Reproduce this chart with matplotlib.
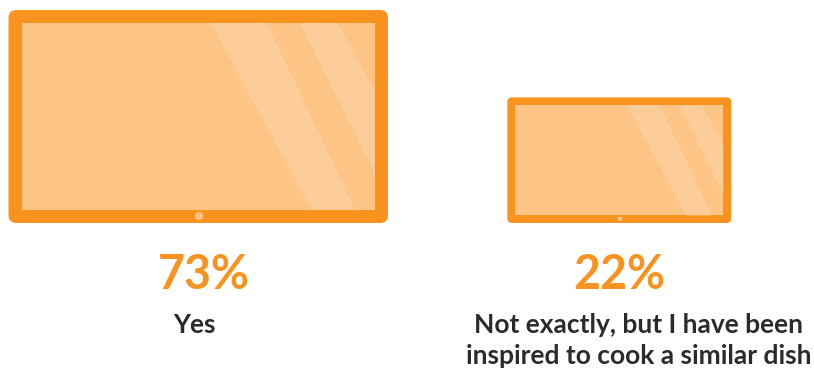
import matplotlib
matplotlib.use("Agg")
import matplotlib.pyplot as plt
from matplotlib.patches import FancyBboxPatch, Rectangle, Polygon, Circle

plt.rcParams["font.family"] = ["Lato", "DejaVu Sans"]

values = [73, 22]
labels = ["Yes", "Not exactly, but I have been\ninspired to cook a similar dish"]

ORANGE = "#F9931F"
SCREEN = "#FCC586"
GLARE = "#FDCD99"
TEXT = "#2B2B2D"

# Tablet drawn for the largest value, in pixels relative to bottom-centre
W, H = 379.5, 213.0
BEZEL_X, BEZEL_TOP, BEZEL_BOT = 13.5, 13.0, 13.0
BANDS = [
    [(12.5, -200), (68.5, -200), (157.0, -13), (113.5, -13)],
    [(101.5, -200), (139.5, -200), (176.25, -132), (176.25, -50)],
]
# Mark size follows the value on a sub-linear power scale
EXPONENT = 0.44


def draw_tablet(ax, value, cx, bottom):
    s = (value / max(values)) ** EXPONENT
    w, h = W * s, H * s
    ax.add_patch(FancyBboxPatch(
        (cx - w / 2 + 8 * s, bottom - h + 8 * s), w - 16 * s, h - 16 * s,
        boxstyle=f"round,pad={8 * s},rounding_size={8 * s}",
        fc=ORANGE, ec="none"))
    screen = Rectangle((cx - w / 2 + BEZEL_X * s, bottom - h + BEZEL_TOP * s),
                       w - 2 * BEZEL_X * s, h - (BEZEL_TOP + BEZEL_BOT) * s,
                       fc=SCREEN, ec="none")
    ax.add_patch(screen)
    for band in BANDS:
        ax.add_patch(Polygon([(cx + x * s, bottom + y * s) for x, y in band],
                             closed=True, fc=GLARE, ec="none"))
    ax.add_patch(Circle((cx + 0.6, bottom - 7 * s), 4 * s, fc=SCREEN, ec="none"))


fig = plt.figure(figsize=(8.14, 3.70), dpi=100, facecolor="white")
ax = fig.add_axes([0, 0, 1, 1])
ax.set_xlim(0, 814)
ax.set_ylim(370, 0)
ax.axis("off")

draw_tablet(ax, values[0], 198.25, 223)
draw_tablet(ax, values[1], 619.25, 223)

pct_x = [203.5, 619]
label_x = [194.5, 639]
label_top = [313, 313]
for v, lab, px, lx, ly in zip(values, labels, pct_x, label_x, label_top):
    ax.text(px, 289, f"{v}%", color=ORANGE, fontsize=33.5, fontweight="bold",
            ha="center", va="baseline")
    ax.text(lx, ly, lab, color=TEXT, fontsize=19, fontweight="bold",
            ha="center", va="top", linespacing=1.35)

fig.savefig("out.png", dpi=100, facecolor="white")
